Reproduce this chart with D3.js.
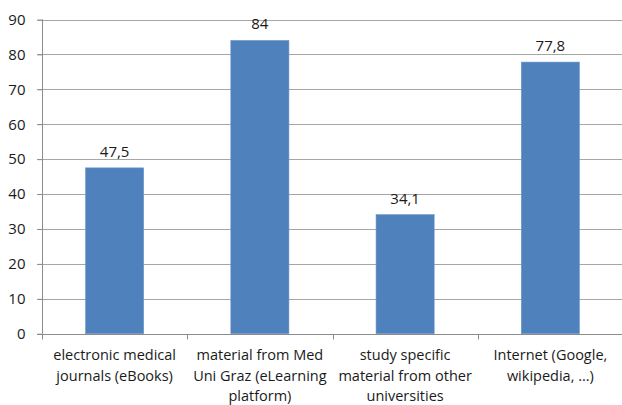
<!DOCTYPE html>
<html>
<head>
<meta charset="utf-8">
<script src="https://cdn.jsdelivr.net/npm/d3@7"></script>
<style>
  html, body { margin: 0; padding: 0; background: #fff; }
  svg { display: block; }
  text { font-family: "Open Sans", sans-serif; fill: #1a1a1a; }
</style>
</head>
<body>
<svg id="chart" width="622" height="405"></svg>
<script>
// Share of respondents (%) using each study resource
const categories = [
  "electronic medical journals (eBooks)",
  "material from Med Uni Graz (eLearning platform)",
  "study specific material from other universities",
  "Internet (Google, wikipedia, ...)"
];
const categoryLines = [
  ["electronic medical", "journals (eBooks)"],
  ["material from Med", "Uni Graz (eLearning", "platform)"],
  ["study specific", "material from other", "universities"],
  ["Internet (Google,", "wikipedia, ...)"]
];
const values = [47.5, 84, 34.1, 77.8];
const valueLabels = ["47,5", "84", "34,1", "77,8"];
const yTicks = [0, 10, 20, 30, 40, 50, 60, 70, 80, 90];

const svg = d3.select("#chart");
const plotLeft = 42, plotRight = 623, plotTop = 19.5, plotBottom = 333.7;

const x = d3.scaleBand().domain(categories).range([plotLeft, plotRight])
  .paddingInner(0.6).paddingOuter(0.3);
const xOuter = d3.scaleBand().domain(categories).range([plotLeft, plotRight]);
const y = d3.scaleLinear().domain([0, 90]).range([plotBottom, plotTop]);

// horizontal gridlines
svg.append("g").selectAll("line").data(yTicks.filter(d => d > 0)).join("line")
  .attr("x1", plotLeft - 5).attr("x2", plotRight)
  .attr("y1", d => Math.round(y(d)) + 0.5).attr("y2", d => Math.round(y(d)) + 0.5)
  .attr("stroke", "#a6a6a6").attr("stroke-width", 1);

// y axis
const yAxis = svg.append("g").attr("transform", `translate(${plotLeft + 0.5},0)`)
  .call(d3.axisLeft(y).tickValues(yTicks).tickSize(5).tickPadding(12));
yAxis.select(".domain").attr("stroke", "#8c8c8c").attr("d", `M0,${plotTop}V${plotBottom}`);
yAxis.selectAll(".tick line").attr("stroke", "#8c8c8c");
yAxis.selectAll(".tick text").attr("font-size", 15).attr("fill", "#1a1a1a")
  .attr("font-family", "Open Sans, sans-serif");

// bars
svg.append("g").selectAll("rect").data(values).join("rect")
  .attr("x", (d, i) => x(categories[i]))
  .attr("width", x.bandwidth())
  .attr("y", d => y(d))
  .attr("height", d => y(0) - y(d))
  .attr("fill", "#4f81bd")
  .attr("stroke", "#6b95c8").attr("stroke-width", 0.6);

// value labels
svg.append("g").selectAll("text").data(values).join("text")
  .attr("x", (d, i) => x(categories[i]) + x.bandwidth() / 2)
  .attr("y", d => y(d) - 11)
  .attr("text-anchor", "middle")
  .attr("font-size", 15)
  .text((d, i) => valueLabels[i]);

// x axis line and category separators
const base = Math.round(y(0)) + 0.5;
svg.append("line").attr("x1", plotLeft - 5).attr("x2", plotRight)
  .attr("y1", base).attr("y2", base).attr("stroke", "#8c8c8c");
const seps = categories.map(c => xOuter(c)).concat([plotRight]);
svg.append("g").selectAll("line").data(seps).join("line")
  .attr("x1", d => Math.round(d) + 0.5).attr("x2", d => Math.round(d) + 0.5)
  .attr("y1", base).attr("y2", base + 5).attr("stroke", "#8c8c8c");

// category labels
const catG = svg.append("g").selectAll("text").data(categories).join("text")
  .attr("x", c => xOuter(c) + xOuter.bandwidth() / 2)
  .attr("y", 360)
  .attr("text-anchor", "middle")
  .attr("font-size", 14.5);
catG.each(function(c, i) {
  d3.select(this).selectAll("tspan").data(categoryLines[i]).join("tspan")
    .attr("x", xOuter(c) + xOuter.bandwidth() / 2)
    .attr("dy", (d, j) => j === 0 ? 0 : 20.7)
    .text(d => d);
});
</script>
</body>
</html>
